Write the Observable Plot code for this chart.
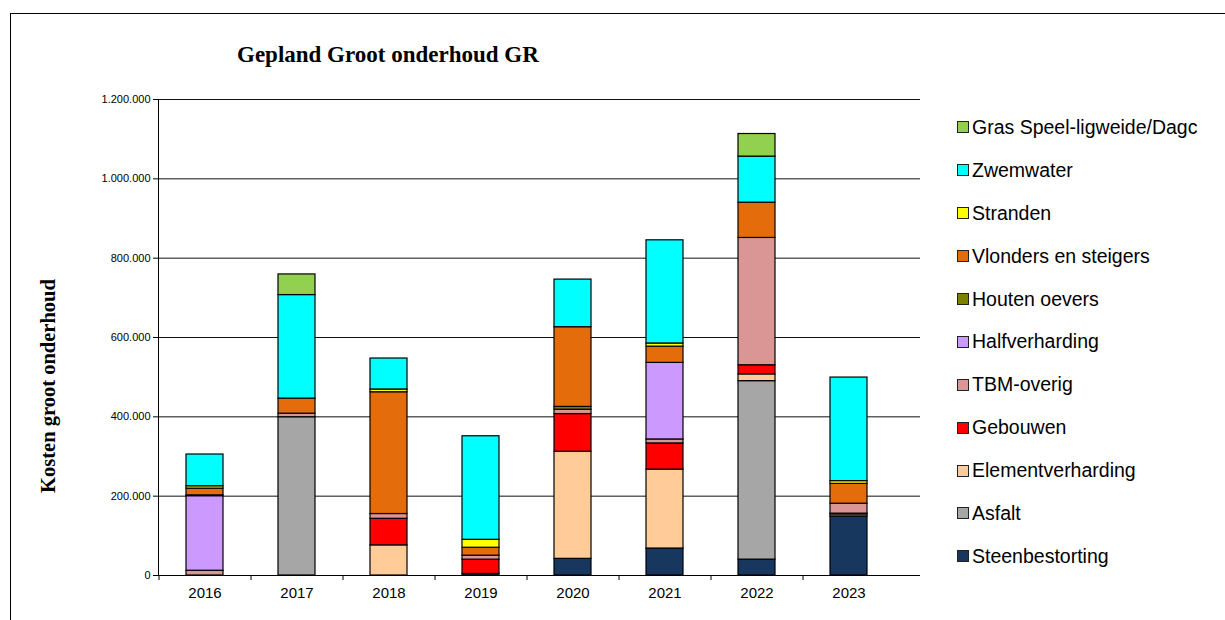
<!DOCTYPE html>
<html>
<head>
<meta charset="utf-8">
<script src="https://cdn.jsdelivr.net/npm/d3@7"></script>
<script src="https://cdn.jsdelivr.net/npm/@observablehq/plot@0.6"></script>
<style>
  html, body { margin: 0; padding: 0; background: #fff; }
  #wrap { position: relative; width: 1225px; height: 620px; overflow: hidden; font-family: "Liberation Sans", Arial, sans-serif; }
  #frame { position: absolute; left: 10px; top: 13px; width: 1230px; height: 640px; border: 1px solid #000; box-sizing: border-box; }
  #title { position: absolute; left: 237px; top: 42px; font-family: "Liberation Serif", "DejaVu Serif", serif; font-weight: bold; font-size: 23px; color: #000; white-space: nowrap; }
  #ylab { position: absolute; left: 48px; top: 386px; transform: translate(-50%, -50%) rotate(-90deg); font-family: "Liberation Serif", "DejaVu Serif", serif; font-weight: bold; font-size: 20.5px; white-space: nowrap; }
  #chart { position: absolute; left: 0; top: 0; }
  #legend { position: absolute; left: 957px; top: 106px; }
  .li { display: flex; align-items: center; height: 42.9px; font-size: 19.5px; color: #000; white-space: nowrap; }
  .sw { width: 10px; height: 10px; border: 1px solid #222; margin-right: 3px; flex: none; }
</style>
</head>
<body>
<div id="wrap">
  <div id="frame"></div>
  <div id="chart"></div>
  <div id="title">Gepland Groot onderhoud GR</div>
  <div id="ylab">Kosten groot onderhoud</div>
  <div id="legend"></div>
</div>
<script>
// Categories (years)
const years = ["2016", "2017", "2018", "2019", "2020", "2021", "2022", "2023"];
// Series, stacked bottom to top
const series = ["Steenbestorting", "Asfalt", "Elementverharding", "Gebouwen", "TBM-overig", "Halfverharding", "Houten oevers", "Vlonders en steigers", "Stranden", "Zwemwater", "Gras Speel-ligweide/Dagc"];
const colors = ["#17375E", "#A6A6A6", "#FFCC99", "#FF0000", "#DA9694", "#CC99FF", "#808000", "#E46C0A", "#FFFF00", "#00FFFF", "#92D050"];

// Values per series, one per year (2016..2023)
const steenbestorting   = [0,      0,      0,      4000,   42000,  68000,  40000,  149000];
const asfalt            = [0,      399000, 0,      0,      0,      0,      450000, 0];
const elementverharding = [0,      0,      76000,  0,      270000, 199000, 17000,  5000];
const gebouwen          = [0,      0,      67000,  36000,  95000,  66000,  23000,  2000];
const tbmOverig         = [12000,  9000,   12000,  10000,  11000,  10000,  321000, 25000];
const halfverharding    = [188000, 0,      0,      0,      0,      193000, 0,      0];
const houtenOevers      = [2000,   0,      0,      0,      7000,   0,      0,      0];
const vlonders          = [17000,  38000,  307000, 20000,  201000, 41000,  89000,  50000];
const stranden          = [6000,   0,      7000,   20000,  0,      8000,   0,      7000];
const zwemwater         = [80000,  261000, 78000,  261000, 120000, 260000, 116000, 261000];
const gras              = [0,      52000,  0,      0,      0,      0,      57000,  0];

const seriesValues = [steenbestorting, asfalt, elementverharding, gebouwen, tbmOverig, halfverharding, houtenOevers, vlonders, stranden, zwemwater, gras];
const yTicks = [0, 200000, 400000, 600000, 800000, 1000000, 1200000];

const rows = [];
years.forEach((yr, i) => {
  series.forEach((s, j) => {
    const v = seriesValues[j][i];
    if (v > 0) rows.push({year: yr, series: s, value: v});
  });
});

const nl = d3.formatLocale({decimal: ",", thousands: ".", grouping: [3], currency: ["€", ""]});
const fmt = nl.format(",");

const chart = Plot.plot({
  width: 1225,
  height: 620,
  marginLeft: 158,
  marginRight: 305,
  marginTop: 99,
  marginBottom: 45,
  style: {fontFamily: "Liberation Sans, Arial, sans-serif", background: "transparent", overflow: "visible"},
  x: {domain: years, range: [158, 894], paddingInner: 0.6, paddingOuter: 0.3, label: null},
  y: {domain: [0, 1200000], label: null},
  color: {domain: series, range: colors},
  marks: [
    Plot.gridY(yTicks, {stroke: "#111", strokeOpacity: 1, strokeWidth: 1}),
    Plot.barY(rows, {x: "year", y: "value", fill: "series", stroke: "#000", strokeWidth: 1.2, order: series}),
    Plot.axisY(yTicks, {tickFormat: fmt, tickSize: 5, tickPadding: 3, fontSize: 11, label: null}),
    Plot.frame({anchor: "left", stroke: "#000"}),
    Plot.axisX({tickSize: 0, tickPadding: 12, fontSize: 15, label: null}),
    Plot.axisX({tickSize: 5, text: null, dx: -46, label: null}),
    Plot.ruleY([0], {stroke: "#000"})
  ]
});
document.getElementById("chart").appendChild(chart);

const legend = document.getElementById("legend");
series.slice().reverse().forEach(s => {
  const i = series.indexOf(s);
  const d = document.createElement("div");
  d.className = "li";
  d.innerHTML = `<span class="sw" style="background:${colors[i]}"></span><span>${s}</span>`;
  legend.appendChild(d);
});
</script>
</body>
</html>
